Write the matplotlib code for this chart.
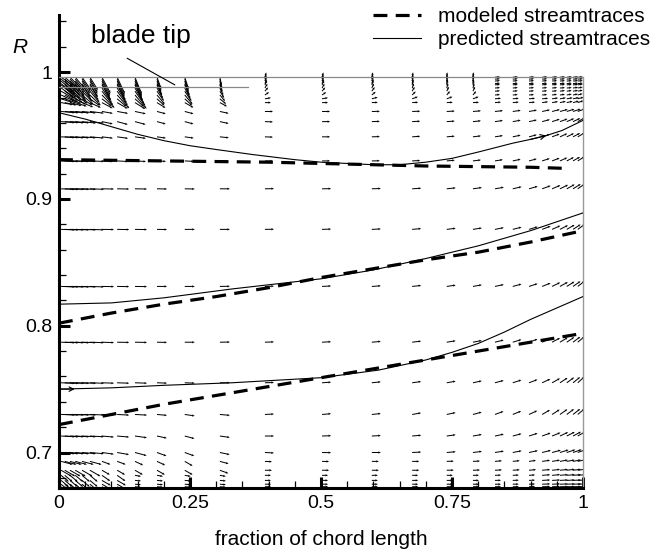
import numpy as np
import matplotlib
matplotlib.use("Agg")
import matplotlib.pyplot as plt
from matplotlib.ticker import MultipleLocator, FixedLocator, FixedFormatter

plt.rcParams['font.family'] = ['Liberation Sans', 'DejaVu Sans']
plt.rcParams['lines.scale_dashes'] = False

# ---------------- data ----------------
# vector grid (fraction of chord, radius)
X_COLS = [0.004, 0.011, 0.021, 0.031, 0.044, 0.059, 0.082, 0.111, 0.145, 0.187,
          0.240, 0.307, 0.393, 0.502, 0.597, 0.674, 0.740, 0.790, 0.832, 0.866,
          0.897, 0.922, 0.941, 0.956, 0.969, 0.981, 0.990]
R_ROWS = [0.996, 0.9945, 0.993, 0.991, 0.990, 0.9875, 0.985, 0.982, 0.979, 0.976,
          0.969, 0.961, 0.949, 0.930, 0.908, 0.876, 0.831, 0.787, 0.755, 0.730,
          0.713, 0.700, 0.693, 0.686, 0.682, 0.678, 0.675, 0.673]

# vector direction (degrees, on screen) read per row / column
ANGLE_DEG = [
    [-35,-40,-45,-50,-55,-58,-62,-65,-68,-70,-72,-78,75,75,78,80,85,85,5,5,5,5,5,5,5,5,5],
    [-38,-42,-47,-52,-56,-60,-63,-66,-68,-70,-72,-78,75,75,78,80,85,85,5,5,5,5,5,5,5,5,5],
    [-40,-45,-50,-54,-58,-60,-64,-66,-68,-70,-72,-76,72,72,75,80,85,85,5,5,5,5,5,5,5,5,5],
    [-40,-45,-50,-54,-58,-60,-63,-65,-67,-68,-70,-75,70,70,72,78,82,85,5,5,5,5,5,5,5,5,5],
    [-38,-43,-48,-52,-56,-58,-60,-62,-64,-65,-66,-72,65,65,70,75,80,80,5,5,5,5,5,5,5,5,8],
    [-35,-40,-45,-48,-52,-55,-57,-58,-60,-60,-62,-65,60,60,65,70,75,75,5,5,5,5,5,5,5,8,10],
    [-30,-35,-40,-42,-46,-50,-52,-54,-55,-55,-56,-58,50,50,55,60,65,65,5,5,5,5,5,8,8,10,12],
    [-25,-28,-32,-35,-40,-44,-46,-48,-50,-50,-50,-50,35,35,40,45,50,50,5,5,5,5,8,8,10,12,15],
    [-18,-20,-24,-28,-32,-35,-38,-40,-42,-42,-42,-40,10,10,15,20,20,20,5,5,5,5,8,10,10,12,15],
    [-10,-12,-15,-18,-22,-25,-28,-30,-32,-32,-30,-28,0,0,2,3,3,3,5,5,5,8,10,12,12,15,18],
    [-5,-5,-5,-6,-6,-7,-10,-10,-12,-15,-15,-12,0,0,1,2,3,5,6,8,10,12,14,15,17,18,20],
    [-4,-4,-5,-5,-6,-6,-12,-15,-15,-15,-15,-12,-2,0,2,3,4,6,8,10,12,15,18,20,23,25,28],
    [-3,-3,-4,-4,-4,-5,-7,-8,-8,-8,-8,-6,-2,0,2,4,5,7,9,12,15,18,21,24,26,28,30],
    [-2,-2,-2,-2,-2,-2,-3,-3,-3,-3,-3,-2,0,0,1,3,5,7,9,12,15,18,21,24,27,30,32],
    [-2,-2,-2,-2,-2,-2,-1,-1,-1,-1,-1,0,1,1,2,4,6,8,10,13,16,20,23,26,29,32,35],
    [-2,-2,-2,-2,-2,-2,-1,-1,-1,-1,0,0,1,2,3,5,7,9,11,14,17,21,24,27,30,33,36],
    [-2,-2,-2,-2,-2,-2,-1,-1,-1,0,0,1,2,3,4,6,8,10,12,15,18,22,26,29,32,35,38],
    [-2,-2,-2,-2,-2,-2,-2,-1,-1,-1,0,1,2,3,5,7,9,11,14,17,20,24,28,31,34,37,40],
    [-2,-2,-2,-2,-2,-2,-2,-2,-2,-2,-2,0,2,4,6,8,10,12,15,18,21,25,29,33,36,39,42],
    [-2,-2,-2,-2,-2,-2,-3,-3,-3,-5,-8,-5,3,5,6,10,12,15,20,22,25,30,33,35,37,38,40],
    [-3,-3,-3,-3,-3,-3,-5,-5,-8,-12,-15,-8,0,2,3,5,8,10,12,15,18,20,22,25,27,28,30],
    [-5,-5,-5,-5,-5,-5,-8,-10,-15,-20,-20,-12,-3,-1,0,3,5,7,9,11,12,14,15,17,18,19,20],
    [-15,-15,-15,-15,-15,-15,-20,-20,-25,-25,-30,-15,-3,-1,0,0,2,3,5,6,8,8,9,10,10,11,12],
    [-30,-30,-30,-30,-30,-30,-30,-30,-30,-30,-30,-20,0,0,0,0,1,2,3,4,5,5,6,6,7,7,8],
    [-40,-40,-40,-40,-40,-40,-35,-35,-10,-10,-10,-10,0,0,0,0,0,1,2,3,4,4,5,5,5,5,5],
    [-40,-40,-40,-40,-40,-40,-30,-30,-5,-5,-5,-5,0,0,0,0,0,0,1,2,3,3,3,3,3,3,3],
    [-40,-40,-40,-40,-40,-40,-30,-30,-5,-5,-5,-5,0,0,0,0,0,0,0,1,2,2,2,2,2,2,2],
    [-40,-40,-40,-40,-40,-40,-30,-30,-5,-5,-5,-5,0,0,0,0,0,0,0,0,1,1,1,1,1,1,1],
]

# vector length on screen (pixels), per row group
LEN_TIP   = [15,15,15,15,15,15,18,18,18,12,12,8,5,5,5,5,5,5,5,5,5,5,5,5,5,5,5]
LEN_NEAR  = [12,12,12,12,12,12,12,12,12,10,10,8,6,6,6,6,6,6,6,6,6,6,6,6,6,6,6]
LEN_UPPER = [14,14,14,14,14,14,11,11,11,9,9,9,8,8,8,8,8,8,8,8,8,8,8,8,8,8,8]
LEN_MID   = [14,14,14,14,14,14,12,12,12,10,10,10,9,9,9,9,9,9,9,9,9,9,9,9,9,9,9]
LEN_LOW   = [12,12,12,12,12,12,9,9,9,9,9,9,7,7,7,7,7,7,7,7,7,8,8,8,8,8,8]
LEN_HUB   = [10,10,10,10,10,10,10,10,6,6,6,6,6,6,6,6,6,6,6,6,6,8,8,8,8,8,8]
LENGTH_PX = [LEN_TIP]*8 + [LEN_NEAR]*2 + [LEN_UPPER]*4 + [LEN_MID]*8 + [LEN_LOW]*2 + [LEN_HUB]*4

# modeled streamtraces (thick dashed)
MOD_X = [0.0, 0.1, 0.2, 0.3, 0.4, 0.5, 0.6, 0.7, 0.8, 0.9, 0.975]
MOD_TOP = [0.931, 0.9305, 0.930, 0.9295, 0.929, 0.928, 0.927, 0.926, 0.9255, 0.925, 0.924]
MOD_X2 = [0.0, 0.1, 0.2, 0.3, 0.4, 0.5, 0.6, 0.7, 0.8, 0.9, 1.0]
MOD_MID = [0.802, 0.810, 0.817, 0.823, 0.830, 0.838, 0.845, 0.852, 0.858, 0.866, 0.875]
MOD_BOT = [0.722, 0.730, 0.738, 0.745, 0.752, 0.759, 0.766, 0.773, 0.780, 0.787, 0.794]

# predicted streamtraces (thin solid)
PRED_TOP_X = [0.0, 0.05, 0.1, 0.15, 0.2, 0.25, 0.3, 0.37, 0.45, 0.5, 0.55, 0.6, 0.65,
              0.7, 0.75, 0.8, 0.866, 0.9, 0.93, 0.96, 1.0]
PRED_TOP_R = [0.968, 0.963, 0.957, 0.951, 0.946, 0.942, 0.939, 0.935, 0.931, 0.929, 0.928,
              0.927, 0.927, 0.929, 0.932, 0.937, 0.944, 0.947, 0.950, 0.954, 0.962]
PRED_MID_X = [0.0, 0.1, 0.2, 0.33, 0.5, 0.6, 0.7, 0.8, 0.85, 0.9, 0.95, 1.0]
PRED_MID_R = [0.817, 0.818, 0.822, 0.829, 0.837, 0.844, 0.853, 0.863, 0.869, 0.875, 0.882, 0.889]
PRED_BOT_X = [0.0, 0.1, 0.2, 0.33, 0.5, 0.61, 0.7, 0.75, 0.8, 0.85, 0.9, 0.95, 1.0]
PRED_BOT_R = [0.750, 0.751, 0.753, 0.755, 0.759, 0.765, 0.773, 0.779, 0.786, 0.795, 0.805, 0.814, 0.823]

# geometry lines
TOP_BOUNDARY_R = 0.996
BLADE_TIP_R = 0.988
BLADE_TIP_X_END = 0.36

X_TICKS = [0, 0.25, 0.5, 0.75, 1]
X_TICK_LABELS = ['0', '0.25', '0.5', '0.75', '1']
Y_TICKS = [0.7, 0.8, 0.9, 1.0]
Y_TICK_LABELS = ['0.7', '0.8', '0.9', '1']

# ---------------- figure ----------------
fig = plt.figure(figsize=(6.51, 5.5), dpi=100)
ax = fig.add_axes([59/651, 1-488/550, 524/651, 473/550])
ax.set_xlim(0, 1)
ax.set_ylim(0.672, 1.0451)

Xg, Yg = np.meshgrid(np.array(X_COLS), np.array(R_ROWS))
ang = np.deg2rad(np.array(ANGLE_DEG, dtype=float))
L = np.array(LENGTH_PX, dtype=float)
U = L*np.cos(ang)
V = L*np.sin(ang)
ax.quiver(Xg, Yg, U, V, angles='uv', scale_units='dots', scale=1.0,
          units='dots', width=1.0, headwidth=2.4, headlength=2.6,
          headaxislength=2.3, pivot='tail', color='black', zorder=2)

# boundaries
ax.plot([0, 1], [TOP_BOUNDARY_R]*2, color='#888888', lw=0.9, zorder=3)
ax.plot([0, BLADE_TIP_X_END], [BLADE_TIP_R]*2, color='#888888', lw=0.9, zorder=3)

# streamtraces
dash = (10, 6)
l1, = ax.plot(MOD_X, MOD_TOP, color='black', lw=2.3, dashes=dash, zorder=4)
ax.plot(MOD_X2, MOD_MID, color='black', lw=2.3, dashes=dash, zorder=4)
ax.plot(MOD_X2, MOD_BOT, color='black', lw=2.3, dashes=dash, zorder=4)
l2, = ax.plot(PRED_TOP_X, PRED_TOP_R, color='black', lw=0.8, zorder=4)
ax.plot(PRED_MID_X, PRED_MID_R, color='black', lw=0.8, zorder=4)
ax.plot(PRED_BOT_X, PRED_BOT_R, color='black', lw=0.8, zorder=4)

# arrowheads on predicted streamtraces
ax.annotate('', xy=(PRED_TOP_X[18], PRED_TOP_R[18]), xytext=(PRED_TOP_X[17], PRED_TOP_R[17]),
            arrowprops=dict(arrowstyle='->', lw=0.8, color='black', mutation_scale=9,
                            shrinkA=0, shrinkB=0))
ax.annotate('', xy=(0.03, PRED_BOT_R[0]), xytext=(0.0, PRED_BOT_R[0]),
            arrowprops=dict(arrowstyle='->', lw=0.8, color='black', mutation_scale=8,
                            shrinkA=0, shrinkB=0))

# blade tip annotation
ax.annotate('', xy=(0.221, 0.990), xytext=(0.13, 1.011),
            arrowprops=dict(arrowstyle='-', lw=0.8, color='black', shrinkA=0, shrinkB=0),
            annotation_clip=False)
ax.text(0.061, 1.0227, 'blade tip', fontsize=19, ha='left', va='baseline')

# axes styling
ax.spines['top'].set_visible(False)
ax.spines['right'].set_color('#999999')
ax.spines['right'].set_linewidth(1.0)
ax.spines['right'].set_bounds(0.672, TOP_BOUNDARY_R)
ax.spines['left'].set_linewidth(2.2)
ax.spines['bottom'].set_linewidth(2.2)

ax.xaxis.set_major_locator(FixedLocator(X_TICKS))
ax.xaxis.set_major_formatter(FixedFormatter(X_TICK_LABELS))
ax.yaxis.set_major_locator(FixedLocator(Y_TICKS))
ax.yaxis.set_major_formatter(FixedFormatter(Y_TICK_LABELS))
ax.xaxis.set_minor_locator(MultipleLocator(0.05))
ax.yaxis.set_minor_locator(MultipleLocator(0.02))
ax.tick_params(which='major', direction='in', length=8, width=2.2, labelsize=14, pad=5,
               top=False, right=False)
ax.tick_params(which='minor', direction='in', length=5, width=0.9, top=False, right=False)

ax.set_xlabel('fraction of chord length', fontsize=15, labelpad=13)
ax.text(-0.0897, 0.92, 'R', transform=ax.transAxes, fontsize=15, style='italic',
        ha='left', va='baseline')

fig.legend([l1, l2], ['modeled streamtraces', 'predicted streamtraces'],
           loc='upper left', bbox_to_anchor=(373/651, 1-7/550), frameon=False,
           fontsize=15, handlelength=2.3, handletextpad=0.8, labelspacing=0.2,
           borderpad=0, borderaxespad=0)

fig.savefig('out.png', dpi=100)
